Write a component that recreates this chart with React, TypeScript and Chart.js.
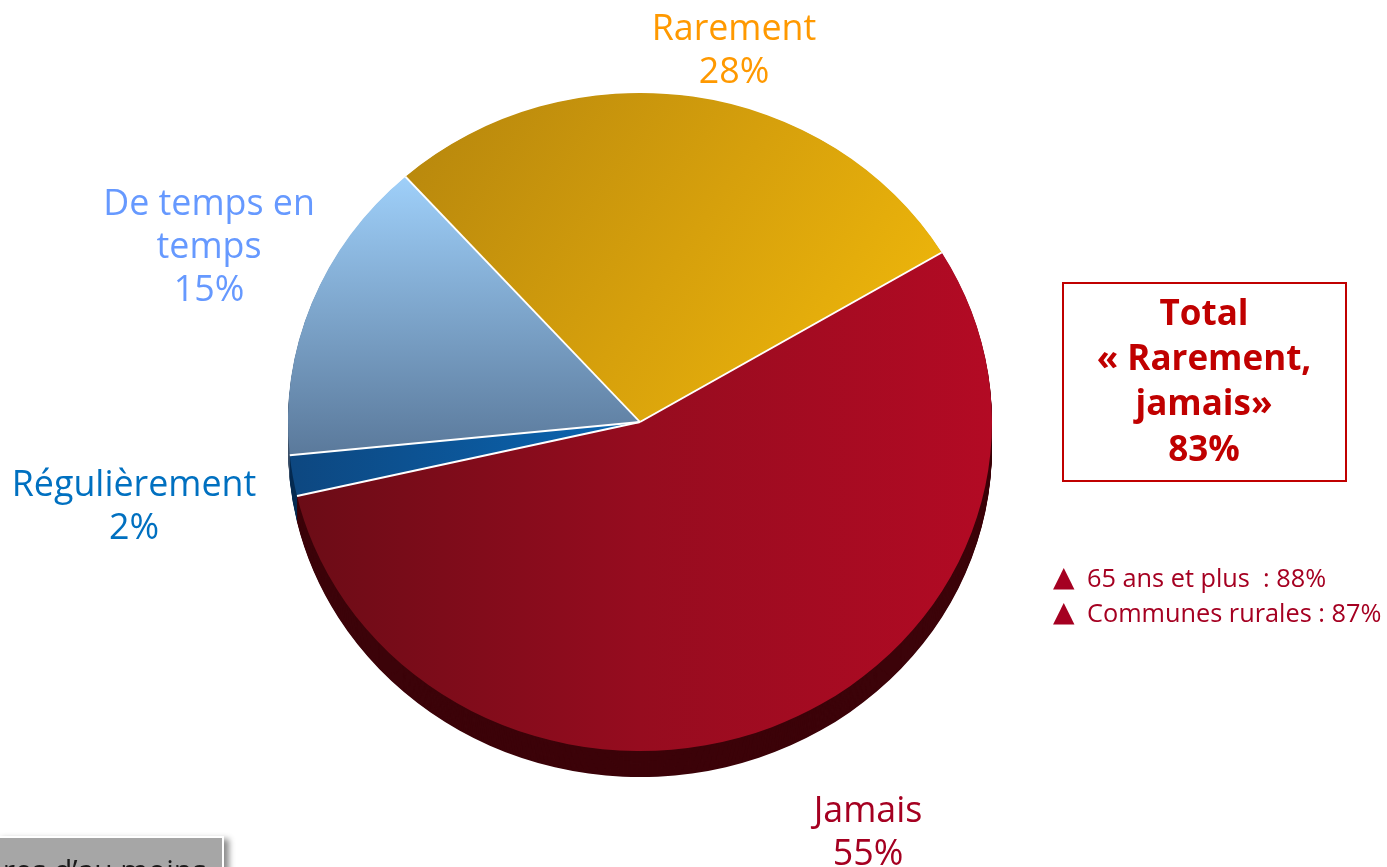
import React, { useEffect, useRef } from "react";
import { Chart, registerables } from "chart.js";

Chart.register(...registerables);

// ---------- data ----------
const categories = ["Jamais", "Régulièrement", "De temps en temps", "Rarement"];
const values = [55, 2, 15, 28];
const labelLines = [
  ["Jamais", "55%"],
  ["Régulièrement", "2%"],
  ["De temps en", "temps", "15%"],
  ["Rarement", "28%"],
];
const totalLines = ["Total", "« Rarement,", "jamais»", "83%"];
const notes = ["65 ans et plus  : 88%", "Communes rurales : 87%"];
const footerText = "eres d’au moins";

// ---------- styling / layout ----------
const W = 1387;
const H = 867;
const CX = 640;
const CY = 422;
const R = 352;
const SY = 0.935;
const DEPTH = 26;
const ROTATION = 59;

const labelColors = ["#a50021", "#0070c0", "#6699ff", "#ff9900"];
const labelPos = [
  { cx: 868, base: 822 },
  { cx: 134, base: 496 },
  { cx: 209, base: 215 },
  { cx: 734, base: 40 },
];
const sideColors = ["#3c0309", "#072c52", "#3d516a", "#7a5a08"];
const solidColors = ["#9a0c1f", "#0b56a0", "#7fa8d6", "#dca40c"];

const OS = "'Open Sans', sans-serif";

function toUserY(y: number) {
  return CY + (y - CY) / SY;
}

function sliceFill(c: any) {
  const chart = c.chart;
  const i = c.dataIndex;
  if (!chart.chartArea) return solidColors[i];
  const ctx = chart.ctx as CanvasRenderingContext2D;
  let g: CanvasGradient;
  if (i === 0) {
    g = ctx.createLinearGradient(CX - R, 0, CX + R, 0);
    g.addColorStop(0, "#6a0c16");
    g.addColorStop(0.5, "#960c1f");
    g.addColorStop(1, "#b30a24");
  } else if (i === 1) {
    g = ctx.createLinearGradient(CX - R, 0, CX, 0);
    g.addColorStop(0, "#0d4780");
    g.addColorStop(1, "#0a66b3");
  } else if (i === 2) {
    g = ctx.createLinearGradient(0, toUserY(175), 0, toUserY(452));
    g.addColorStop(0, "#9fd0fa");
    g.addColorStop(1, "#5b7a9c");
  } else {
    g = ctx.createLinearGradient(420, toUserY(110), 920, toUserY(420));
    g.addColorStop(0, "#b7870d");
    g.addColorStop(0.5, "#d6a00c");
    g.addColorStop(1, "#f2ba0a");
  }
  return g;
}

const tiltPlugin = {
  id: "tilt3d",
  beforeDatasetsDraw(chart: any) {
    const ctx = chart.ctx as CanvasRenderingContext2D;
    const meta = chart.getDatasetMeta(0);
    const arcs = meta.data as any[];
    if (!arcs.length) return;
    const cx = arcs[0].x;
    const cy = arcs[0].y;
    ctx.save();
    ctx.translate(cx, cy);
    ctx.scale(1, SY);
    ctx.translate(-cx, -cy);
    const d = DEPTH / SY;
    for (let off = d; off > 0; off -= 1) {
      arcs.forEach((a: any, i: number) => {
        ctx.beginPath();
        ctx.moveTo(a.x, a.y + off);
        ctx.arc(a.x, a.y + off, a.outerRadius, a.startAngle, a.endAngle);
        ctx.closePath();
        ctx.fillStyle = sideColors[i];
        ctx.fill();
      });
    }
  },
  afterDatasetsDraw(chart: any) {
    const ctx = chart.ctx as CanvasRenderingContext2D;
    const meta = chart.getDatasetMeta(0);
    const arcs = meta.data as any[];
    if (!arcs.length) return;
    ctx.strokeStyle = "#ffffff";
    ctx.lineWidth = 2;
    arcs.forEach((a: any) => {
      ctx.beginPath();
      ctx.moveTo(a.x, a.y);
      ctx.lineTo(
        a.x + a.outerRadius * Math.cos(a.startAngle),
        a.y + a.outerRadius * Math.sin(a.startAngle)
      );
      ctx.stroke();
    });
    ctx.restore();
  },
};

function TextBlock(props: {
  cx: number;
  base: number;
  lines: string[];
  color: string;
  size: number;
  lh: number;
  weight?: number;
}) {
  const { cx, base, lines, color, size, lh, weight } = props;
  const asc = 1.069;
  const desc = 0.293;
  const top = base - ((lh - (asc + desc) * size) / 2 + asc * size);
  return (
    <div
      style={{
        position: "absolute",
        left: cx - 300,
        width: 600,
        top,
        textAlign: "center",
        color,
        fontFamily: OS,
        fontSize: size,
        lineHeight: lh + "px",
        fontWeight: weight || 400,
        whiteSpace: "nowrap",
      }}
    >
      {lines.map((l, i) => (
        <div key={i}>{l}</div>
      ))}
    </div>
  );
}

export default function App() {
  const ref = useRef<HTMLCanvasElement | null>(null);

  useEffect(() => {
    if (!ref.current) return;
    const chart = new Chart(ref.current, {
      type: "pie",
      data: {
        labels: categories,
        datasets: [
          {
            data: values,
            backgroundColor: sliceFill as any,
            borderWidth: 0,
          },
        ],
      },
      options: {
        responsive: false,
        animation: false,
        events: [],
        rotation: ROTATION,
        layout: {
          padding: {
            left: CX - R,
            right: W - CX - R,
            top: CY - R,
            bottom: H - CY - R,
          },
        },
        plugins: {
          legend: { display: false },
          tooltip: { enabled: false },
        },
      } as any,
      plugins: [tiltPlugin as any],
    });
    return () => chart.destroy();
  }, []);

  const asc = 1.069;
  const desc = 0.293;
  const noteSize = 25.3;
  const noteLh = 35;
  const noteBases = [587, 622];

  return (
    <div
      style={{
        position: "fixed",
        left: 0,
        top: 0,
        width: W,
        height: H,
        overflow: "hidden",
        background: "#ffffff",
      }}
    >
      <canvas
        ref={ref}
        width={W}
        height={H}
        style={{ position: "absolute", left: 0, top: 0, width: W, height: H }}
      />
      {labelLines.map((lines, i) => (
        <TextBlock
          key={i}
          cx={labelPos[i].cx}
          base={labelPos[i].base}
          lines={lines}
          color={labelColors[i]}
          size={35.8}
          lh={43}
        />
      ))}
      <div
        style={{
          position: "absolute",
          left: 1062,
          top: 282,
          width: 285,
          height: 200,
          boxSizing: "border-box",
          border: "2px solid #c00000",
        }}
      />
      <TextBlock
        cx={1204}
        base={325}
        lines={totalLines}
        color="#c00000"
        size={35}
        lh={45.3}
        weight={700}
      />
      {notes.map((n, i) => {
        const top =
          noteBases[i] - ((noteLh - (asc + desc) * noteSize) / 2 + asc * noteSize);
        return (
          <React.Fragment key={i}>
            <div
              style={{
                position: "absolute",
                left: 1053,
                top: top - 1,
                fontFamily: "'DejaVu Sans', sans-serif",
                fontSize: 28,
                lineHeight: noteLh + "px",
                color: "#a50021",
              }}
            >
              ▲
            </div>
            <div
              style={{
                position: "absolute",
                left: 1087,
                top: top,
                fontFamily: OS,
                fontSize: noteSize,
                lineHeight: noteLh + "px",
                color: "#a50021",
                whiteSpace: "pre",
              }}
            >
              {n}
            </div>
          </React.Fragment>
        );
      })}
      <div
        style={{
          position: "absolute",
          left: -4,
          top: 836,
          width: 224,
          height: 50,
          background: "#a6a6a6",
          border: "2px solid #ffffff",
          boxShadow: "5px 3px 6px rgba(0,0,0,0.45)",
          overflow: "hidden",
        }}
      >
        <div
          style={{
            position: "absolute",
            left: -12,
            top: 14,
            fontFamily: OS,
            fontSize: 30,
            lineHeight: "36px",
            color: "#1a1a1a",
            whiteSpace: "nowrap",
          }}
        >
          {footerText}
        </div>
      </div>
    </div>
  );
}
